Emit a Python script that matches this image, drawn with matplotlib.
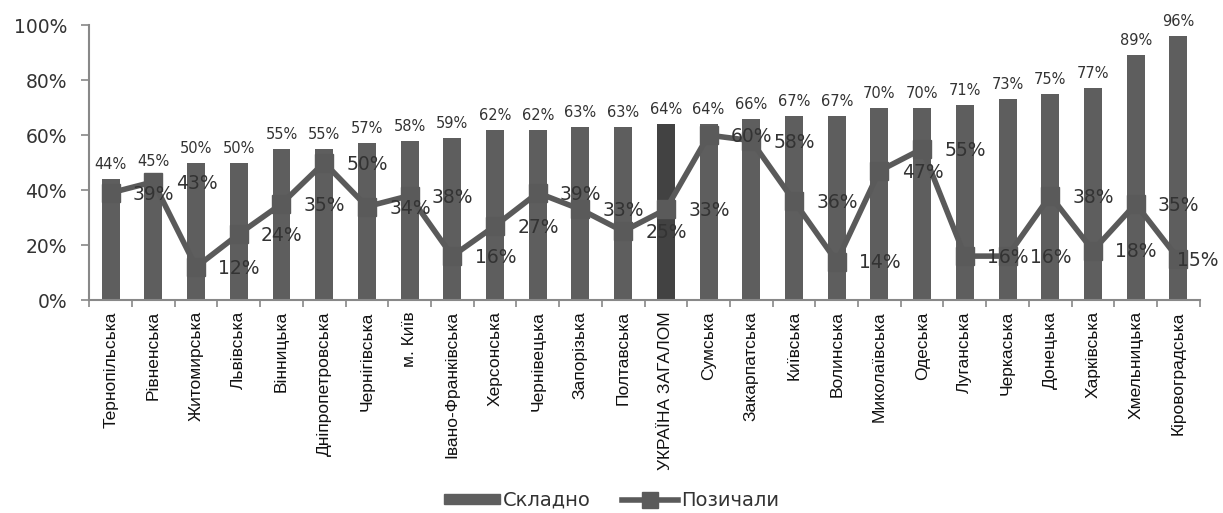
import matplotlib
matplotlib.use("Agg")
import matplotlib.pyplot as plt
from matplotlib.ticker import PercentFormatter, FixedLocator
from matplotlib.lines import Line2D
from matplotlib.patches import Patch
import numpy as np

regions = [
    "Тернопільська", "Рівненська", "Житомирська", "Львівська", "Вінницька",
    "Дніпропетровська", "Чернігівська", "м. Київ", "Івано-Франківська",
    "Херсонська", "Чернівецька", "Запорізька", "Полтавська", "УКРАЇНА ЗАГАЛОМ",
    "Сумська", "Закарпатська", "Київська", "Волинська", "Миколаївська",
    "Одеська", "Луганська", "Черкаська", "Донецька", "Харківська",
    "Хмельницька", "Кіровоградська",
]
difficult = [44, 45, 50, 50, 55, 55, 57, 58, 59, 62, 62, 63, 63, 64,
             64, 66, 67, 67, 70, 70, 71, 73, 75, 77, 89, 96]
borrowed = [39, 43, 12, 24, 35, 50, 34, 38, 16, 27, 39, 33, 25, 33,
            60, 58, 36, 14, 47, 55, 16, 16, 38, 18, 35, 15]
total_label = "УКРАЇНА ЗАГАЛОМ"

bar_color = "#5e5e5e"
total_color = "#424242"
line_color = "#5a5a5a"
text_color = "#333333"

fig = plt.figure(figsize=(12.23, 5.13), dpi=100)
ax = fig.add_axes([0.073, 0.415, 0.908, 0.536])

x = np.arange(len(regions))
colors = [total_color if r == total_label else bar_color for r in regions]
ax.bar(x, difficult, width=0.42, color=colors, zorder=2)
ax.plot(x, borrowed, color=line_color, lw=4.0, marker="s", ms=12.5,
        mfc=line_color, mec=line_color, zorder=3)

for xi, v in zip(x, difficult):
    ax.annotate(f"{v}%", (xi, v), xytext=(0, 5), textcoords="offset points",
                ha="center", va="bottom", fontsize=10.5, color=text_color,
                family="DejaVu Sans", zorder=4)
last = len(borrowed) - 1
for xi, v in zip(x, borrowed):
    # the final label is pulled back so it stays inside the figure
    dx = -1 if xi == last else 16
    ax.annotate(f"{v}%", (xi, v), xytext=(dx, -1), textcoords="offset points",
                ha="left", va="center", fontsize=13.5, color=text_color,
                family="DejaVu Sans", zorder=4, annotation_clip=False)

ax.set_xlim(-0.5, len(regions) - 0.5)
ax.set_ylim(0, 100)
ax.set_yticks(range(0, 101, 20))
ax.yaxis.set_major_formatter(PercentFormatter(100, decimals=0))
ax.tick_params(axis="y", labelsize=13.5, labelcolor=text_color, color="#888888",
               length=6, width=1.2, pad=10)

ax.set_xticks(x)
ax.set_xticklabels(regions, rotation=90, ha="center", va="top",
                   family=["Liberation Sans Narrow", "Liberation Sans"],
                   fontsize=12.5, color="#111111")
ax.tick_params(axis="x", length=0, pad=8)
ax.xaxis.set_minor_locator(FixedLocator(np.arange(-0.5, len(regions), 1.0)))
ax.tick_params(axis="x", which="minor", length=5, width=1.2, color="#888888")

for side in ("top", "right"):
    ax.spines[side].set_visible(False)
for side in ("left", "bottom"):
    ax.spines[side].set_color("#888888")
    ax.spines[side].set_linewidth(1.5)

handles = [
    Patch(facecolor=bar_color, edgecolor=bar_color),
    Line2D([0], [0], color=line_color, lw=4.0, marker="s", ms=11),
]
fig.legend(handles, ["Складно", "Позичали"], loc="center",
           bbox_to_anchor=(0.5, 0.025), ncol=2, frameon=False,
           fontsize=14, handlelength=2.9, handleheight=0.45,
           handletextpad=0.15, columnspacing=1.6,
           labelcolor=text_color)

fig.savefig("out.png", dpi=100)
